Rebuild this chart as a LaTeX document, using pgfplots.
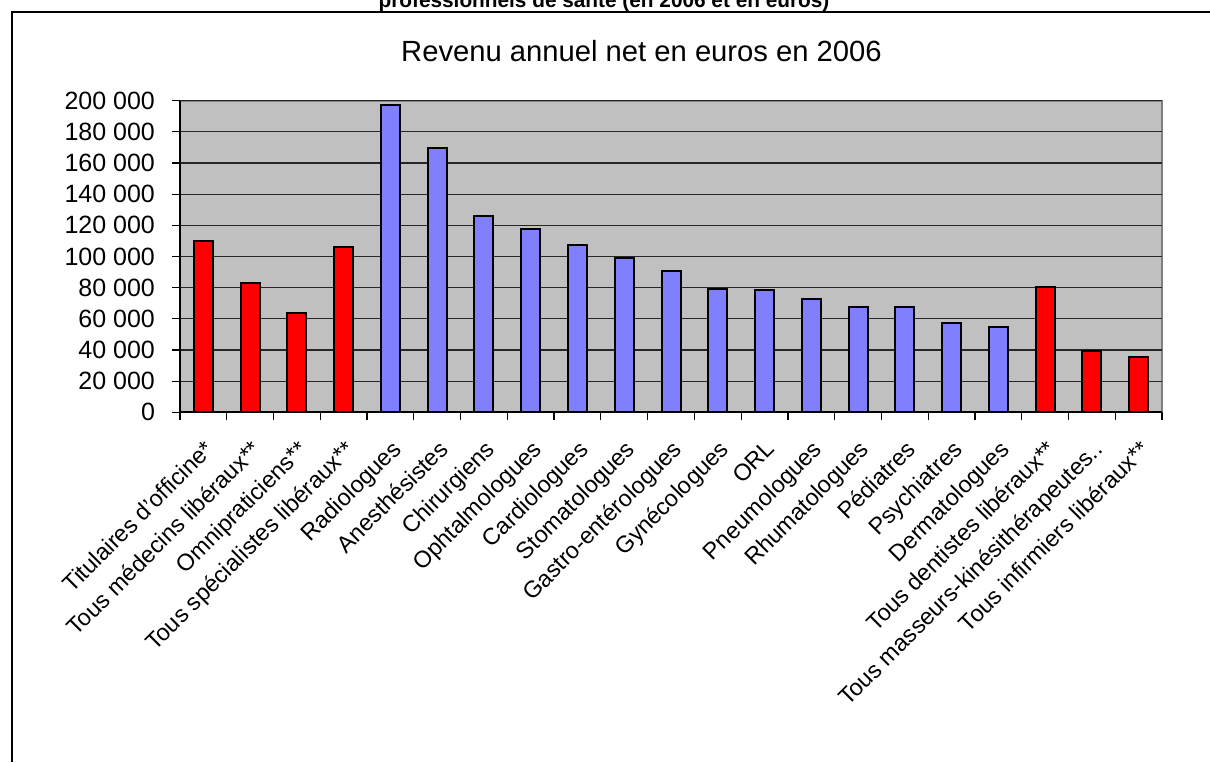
\documentclass[border=0pt]{standalone}
\usepackage{fontspec}
\setmainfont{Liberation Sans}
\usepackage{pgfplots}
\pgfplotsset{compat=1.18}
\definecolor{barred}{RGB}{255,0,0}
\definecolor{barblue}{RGB}{128,128,255}
\definecolor{plotbg}{RGB}{192,192,192}
\begin{document}
\begin{tikzpicture}[x=1pt,y=1pt]
\useasboundingbox (0,0) rectangle (605,-381);
\draw[line width=1pt] (6,-381) -- (6,-5.8) -- (605,-5.8);
\node[font=\bfseries\fontsize{10.4}{12}\selectfont, anchor=base, inner sep=0pt] at (302,-3.6) {professionnels de santé (en 2006 et en euros)};
\node[font=\fontsize{14.6}{16}\selectfont, anchor=base, inner sep=0pt] at (320.75,-30.8) {Revenu annuel net en euros en 2006};
\begin{axis}[
  at={(90pt,-206.15pt)}, anchor=south west,
  width=491pt, height=155.8pt, scale only axis,
  xmin=-0.5, xmax=20.5, ymin=0, ymax=200000,
  axis background/.style={fill=plotbg, draw=gray, line width=1pt},
  axis x line*=bottom, axis y line*=left,
  axis line style={-, black, line width=0.9pt},
  tick align=outside, major tick length=4pt,
  tick style={black, line width=0.6pt},
  scaled y ticks=false,
  ytick={0,20000,...,200000},
  yticklabels={0,20 000,40 000,60 000,80 000,100 000,120 000,140 000,160 000,180 000,200 000},
  yticklabel style={font=\fontsize{12.5}{14}\selectfont},
  yticklabel shift=5pt,
  ymajorgrids, grid style={black!85, line width=0.6pt},
  xtick={-0.5,0.5,...,20.5}, xticklabels={},
  extra x ticks={0,1,...,20},
  extra x tick style={major tick length=0pt, grid=none},
  extra x tick labels={Titulaires d'officine*,Tous médecins libéraux**,Omnipraticiens**,Tous spécialistes libéraux**,Radiologues,Anesthésistes,Chirurgiens,Ophtalmologues,Cardiologues,Stomatologues,Gastro-entérologues,Gynécologues,ORL,Pneumologues,Rhumatologues,Pédiatres,Psychiatres,Dermatologues,Tous dentistes libéraux**,Tous masseurs-kinésithérapeutes..,Tous infirmiers libéraux**},
  xticklabel style={font=\fontsize{11.7}{13}\selectfont, rotate=45, anchor=north east, inner sep=0pt},
  xticklabel shift=13pt,
  ybar, bar width=9.5pt,
  every axis plot/.append style={bar shift=0pt, draw=black, line width=1pt},
]
\addplot[fill=barred] coordinates {(0,110000) (1,83000) (2,64000) (3,106000) (18,80400) (19,39200) (20,35300)};
\addplot[fill=barblue] coordinates {(4,197500) (5,169500) (6,126000) (7,117700) (8,107400) (9,99200) (10,90700) (11,79000) (12,78500) (13,72500) (14,67400) (15,67400) (16,57500) (17,55000)};
\end{axis}
\end{tikzpicture}
\end{document}
